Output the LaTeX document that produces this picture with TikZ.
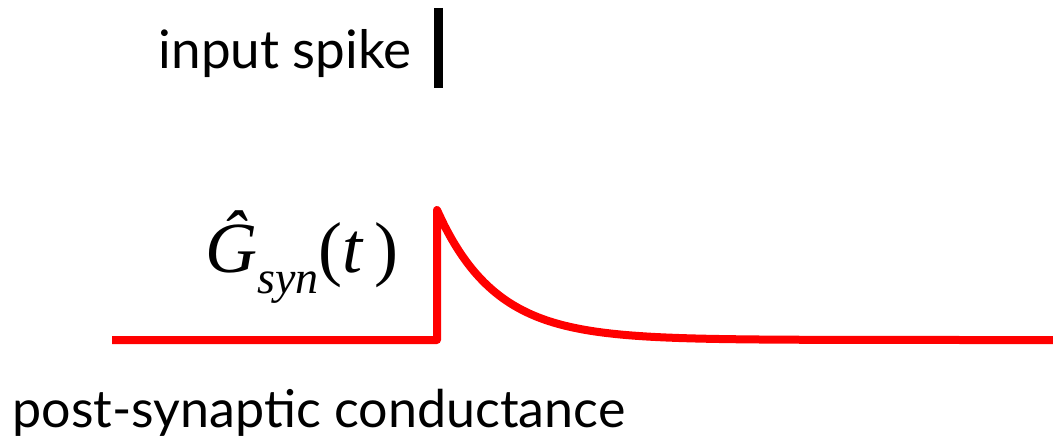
\documentclass[tikz,border=0pt]{standalone}
\usepackage{fontspec}
\setmainfont{Lato}
\newfontfamily\eqfont{Liberation Serif}
\usetikzlibrary{positioning}

\tikzset{
  label text/.style={font=\fontsize{26}{31}\selectfont, inner sep=0pt},
  syn trace/.style={red, line width=4pt, line join=round},
}

\begin{document}
\begin{tikzpicture}[x=0.5pt, y=-0.5pt]
        \useasboundingbox (0,0) rectangle (1053,443);

        % input spike
        \draw[black, line width=4.5pt] (438,8) -- (438,88);
        \node[label text, font=\fontsize{26.5}{31}\selectfont, anchor=base east] (spike) at (412,69) {input spike};

        % conductance trace
        \draw[syn trace] (112,340) -- (437,340) -- (437,210)
          -- plot[domain=437:1053, samples=80, smooth] (\x, {340-130*exp(-(\x-437)/58)});
        \node[inner sep=0pt, anchor=base west] (gsyn) at (205,272)
          {\eqfont\fontsize{36}{40}\selectfont\itshape \^{G}\raisebox{-0.3em}{\fontsize{23}{26}\selectfont syn}\upshape(\itshape t\upshape\,)};

        % label
        \node[label text, anchor=base west] (post) at (12,427) {post-synaptic conductance};
\end{tikzpicture}
\end{document}
